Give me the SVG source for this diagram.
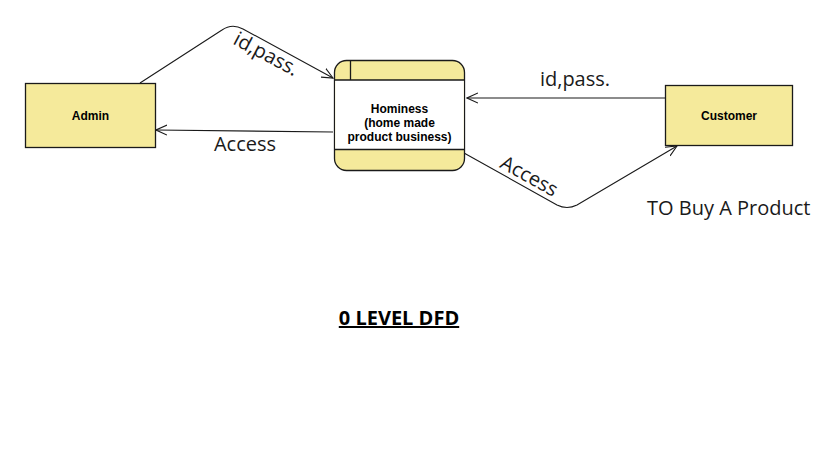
<svg xmlns="http://www.w3.org/2000/svg" width="822" height="469" viewBox="0 0 822 469">
<style>
.box{fill:#f5ea9b;stroke:#1a1a1a;stroke-width:1.3}
.ln{fill:none;stroke:#1a1a1a;stroke-width:1.1}
.nt{font-family:"Liberation Sans",Arial,sans-serif;font-size:12px;font-weight:bold;fill:#000;text-anchor:middle}
.lb{font-family:"Open Sans",sans-serif;font-size:20px;fill:#1a1a1a}
</style>
<defs>
<marker id="ah" viewBox="0 0 12 12" refX="11" refY="6" markerWidth="12" markerHeight="12" markerUnits="userSpaceOnUse" orient="auto">
<path d="M0,1 L11,6 L0,11" fill="none" stroke="#1a1a1a" stroke-width="1.1"/>
</marker>
</defs>
<rect width="822" height="469" fill="#fff"/>
<g id="connectors">
<path class="ln" d="M140,83 L222,30 Q232,23 243,29 L333,78" marker-end="url(#ah)"/>
<path class="ln" d="M333,132 L156,130" marker-end="url(#ah)"/>
<path class="ln" d="M665,98 L467,98" marker-end="url(#ah)"/>
<path class="ln" d="M464,153 L557,205 Q567,210 577,205 L677,146" marker-end="url(#ah)"/>
<text class="lb" transform="translate(263,60) rotate(28)" text-anchor="middle">id,pass.</text>
<text class="lb" x="245" y="151" text-anchor="middle">Access</text>
<text class="lb" x="575" y="86" text-anchor="middle">id,pass.</text>
<text class="lb" transform="translate(526,182) rotate(29)" text-anchor="middle">Access</text>
</g>
<g id="admin">
<rect class="box" x="25.5" y="83.5" width="130" height="64"/>
<text class="nt" x="90.5" y="120">Admin</text>
</g>
<g id="customer">
<rect class="box" x="665.5" y="85.5" width="127" height="60"/>
<text class="nt" x="729" y="120">Customer</text>
</g>
<g id="process">
<rect class="box" x="334.5" y="60.5" width="130" height="110" rx="12" ry="12"/>
<rect x="335.2" y="80" width="128.6" height="69.5" fill="#fff"/>
<path class="ln" d="M334.5,80 H464.5 M334.5,149.5 H464.5 M350.5,60.5 V80" style="stroke-width:1.3"/>
<text class="nt" x="399.5" y="113">Hominess</text>
<text class="nt" x="399.5" y="127">(home made</text>
<text class="nt" x="399.5" y="141">product business)</text>
</g>
<text class="lb" x="647" y="215">TO Buy A Product</text>
<text x="399" y="325" text-anchor="middle" style="font-family:'Open Sans',sans-serif;font-size:20px;font-weight:bold;text-decoration:underline;fill:#000">0 LEVEL DFD</text>
</svg>
